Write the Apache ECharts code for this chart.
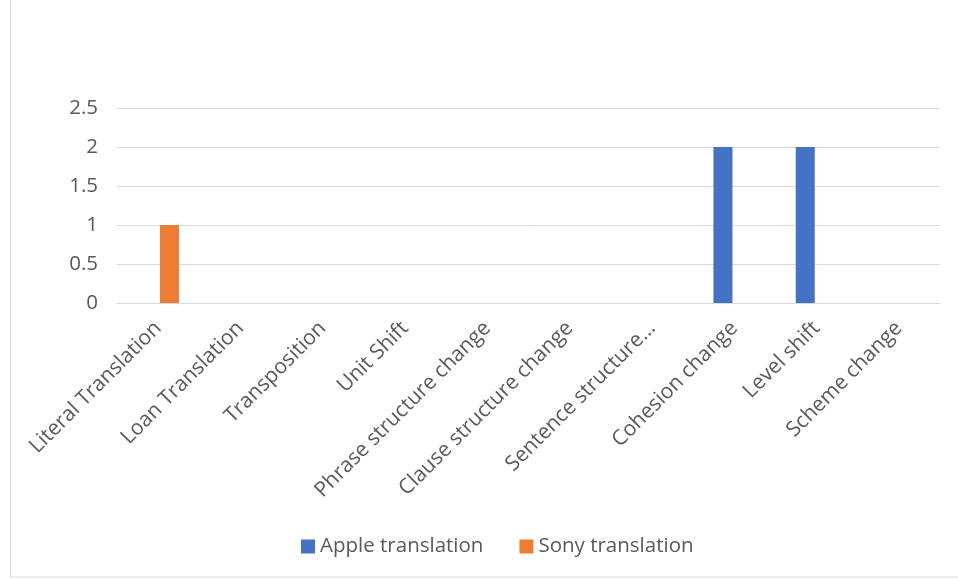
<!DOCTYPE html>
<html>
<head>
<meta charset="utf-8">
<script src="https://cdn.jsdelivr.net/npm/echarts@6/dist/echarts.min.js"></script>
<style>
  html, body { margin: 0; padding: 0; background: #fff; }
  #chart { width: 958px; height: 579px; }
</style>
</head>
<body>
<div id="chart"></div>
<script>
const categories = [
  'Literal Translation', 'Loan Translation', 'Transposition', 'Unit Shift',
  'Phrase structure change', 'Clause structure change', 'Sentence structure change',
  'Cohesion change', 'Level shift', 'Scheme change'
];
const appleValues = [0, 0, 0, 0, 0, 0, 0, 2, 2, 0];
const sonyValues = [1, 0, 0, 0, 0, 0, 0, 0, 0, 0];
const seriesNames = ['Apple translation', 'Sony translation'];

const chart = echarts.init(document.getElementById('chart'), null, { renderer: 'canvas' });
const font = '"Open Sans", sans-serif';

chart.setOption({
  backgroundColor: '#fff',
  animation: false,
  textStyle: { fontFamily: font },
  graphic: [{
    type: 'rect',
    shape: { x: 10.5, y: -1, width: 960, height: 578 },
    style: { fill: 'none', stroke: '#d9d9d9', lineWidth: 1 }
  }],
  grid: { left: 117, right: 18, top: 108, bottom: 276 },
  legend: {
    bottom: 17,
    left: 296,
    itemWidth: 14,
    itemHeight: 14,
    itemGap: 36,
    icon: 'rect',
    textStyle: { color: '#595959', fontSize: 20.5, fontFamily: font },
    data: seriesNames
  },
  xAxis: {
    type: 'category',
    data: categories,
    axisLine: { lineStyle: { color: '#d9d9d9' } },
    axisTick: { show: false },
    axisLabel: {
      rotate: 45,
      interval: 0,
      color: '#595959',
      fontSize: 21,
      margin: 22,
      fontFamily: font,
      formatter: v => v === 'Sentence structure change' ? 'Sentence structure…' : v
    }
  },
  yAxis: {
    type: 'value',
    min: 0,
    max: 2.5,
    interval: 0.5,
    axisLine: { show: false },
    axisTick: { show: false },
    axisLabel: { color: '#595959', fontSize: 20.5, margin: 19, fontFamily: font },
    splitLine: { lineStyle: { color: '#d9d9d9', width: 1 } }
  },
  series: [
    {
      name: seriesNames[0],
      type: 'bar',
      data: appleValues,
      barWidth: 19,
      barGap: '19%',
      itemStyle: { color: '#4472c4' }
    },
    {
      name: seriesNames[1],
      type: 'bar',
      data: sonyValues,
      barWidth: 19,
      itemStyle: { color: '#ed7d31' }
    }
  ]
});
</script>
</body>
</html>
